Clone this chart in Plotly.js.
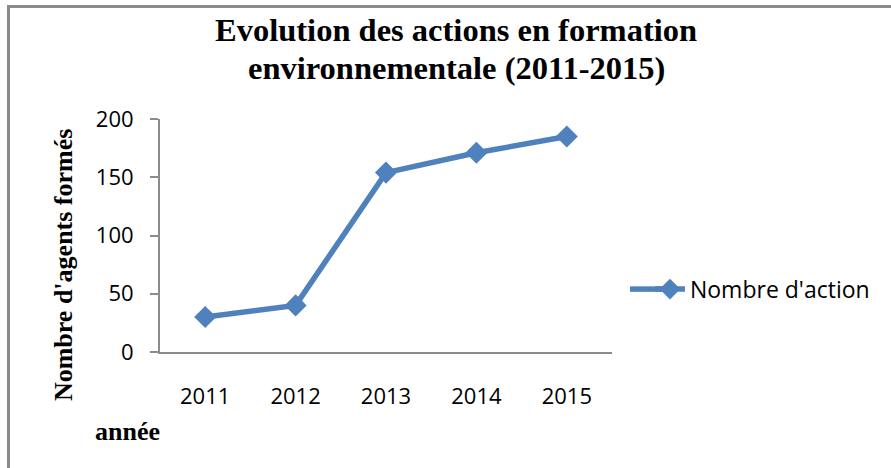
<!DOCTYPE html>
<html>
<head>
<meta charset="utf-8">
<script src="https://cdn.plot.ly/plotly-3.0.1.min.js"></script>
<style>
html,body{margin:0;padding:0;background:#fff;}
#frame{position:absolute;left:7px;top:5px;width:900px;height:480px;border-left:3px solid #8a8a8a;border-top:3px solid #8a8a8a;}
#chart{position:absolute;left:0;top:0;width:891px;height:468px;}
</style>
</head>
<body>
<div id="frame"></div>
<div id="chart"></div>
<script>
const years = ['2011','2012','2013','2014','2015'];
const actions = [30, 40, 154, 171, 185];
const seriesName = "Nombre d'action";
const titleLines = ['Evolution des actions en formation', 'environnementale (2011-2015)'];
const yTitle = "Nombre d'agents formés";
const xTitle = 'année';

const blue = '#4F81BD';
const axisGray = '#8c8c8c';
const sans = '"Open Sans", "Noto Sans", sans-serif';
const serif = '"Liberation Serif", "DejaVu Serif", serif';
const titleFont = {family: serif, size: 32.5, color: '#000', weight: 'bold'};
const axTitleFont = {family: serif, size: 26, color: '#000', weight: 'bold'};

const trace = {
  x: years, y: actions, type: 'scatter', mode: 'lines+markers', name: seriesName,
  line: {color: blue, width: 5.5},
  marker: {symbol: 'diamond', size: 17, color: blue}
};

const layout = {
  width: 891, height: 468,
  paper_bgcolor: 'rgba(0,0,0,0)', plot_bgcolor: 'rgba(0,0,0,0)',
  margin: {l: 160, r: 279, t: 119, b: 116},
  showlegend: true,
  legend: {x: 1.084, xanchor: 'left', y: 0.27, yanchor: 'middle',
           font: {family: sans, size: 23, color: '#000'}, bgcolor: 'rgba(0,0,0,0)'},
  xaxis: {type: 'category', range: [-0.5, 4.5], showgrid: false, zeroline: false,
          showline: true, linecolor: axisGray, linewidth: 2, ticks: '',
          tickfont: {family: sans, size: 22, color: '#000'}, ticklabelstandoff: 24},
  yaxis: {range: [0, 200], tickvals: [0, 50, 100, 150, 200], showgrid: false, zeroline: false,
          showline: true, linecolor: axisGray, linewidth: 2, ticks: 'outside', ticklen: 8,
          tickcolor: axisGray, tickwidth: 2, ticklabelstandoff: 12,
          tickfont: {family: sans, size: 22, color: '#000'}},
  shapes: [
    {type: 'line', xref: 'paper', yref: 'paper', x0: (630 - 160) / 452, x1: (662 - 160) / 452,
     y0: 0.27, y1: 0.27, line: {color: blue, width: 5.5}}
  ],
  annotations: [
    {text: titleLines[0], xref: 'paper', yref: 'paper', x: 0.655, y: (352 - 30) / 233,
     xanchor: 'center', yanchor: 'middle', showarrow: false, font: titleFont},
    {text: titleLines[1], xref: 'paper', yref: 'paper', x: 0.655, y: (352 - 68) / 233,
     xanchor: 'center', yanchor: 'middle', showarrow: false, font: titleFont},
    {text: yTitle, textangle: -90, xref: 'paper', yref: 'paper', x: 0, y: 0.373,
     xanchor: 'center', yanchor: 'middle', xshift: -97, showarrow: false, font: axTitleFont},
    {text: xTitle, xref: 'paper', yref: 'paper', x: 0, y: -0.343,
     xanchor: 'left', yanchor: 'middle', xshift: -67, showarrow: false, font: axTitleFont}
  ]
};

Plotly.newPlot('chart', [trace], layout, {displayModeBar: false, staticPlot: true});
</script>
</body>
</html>
